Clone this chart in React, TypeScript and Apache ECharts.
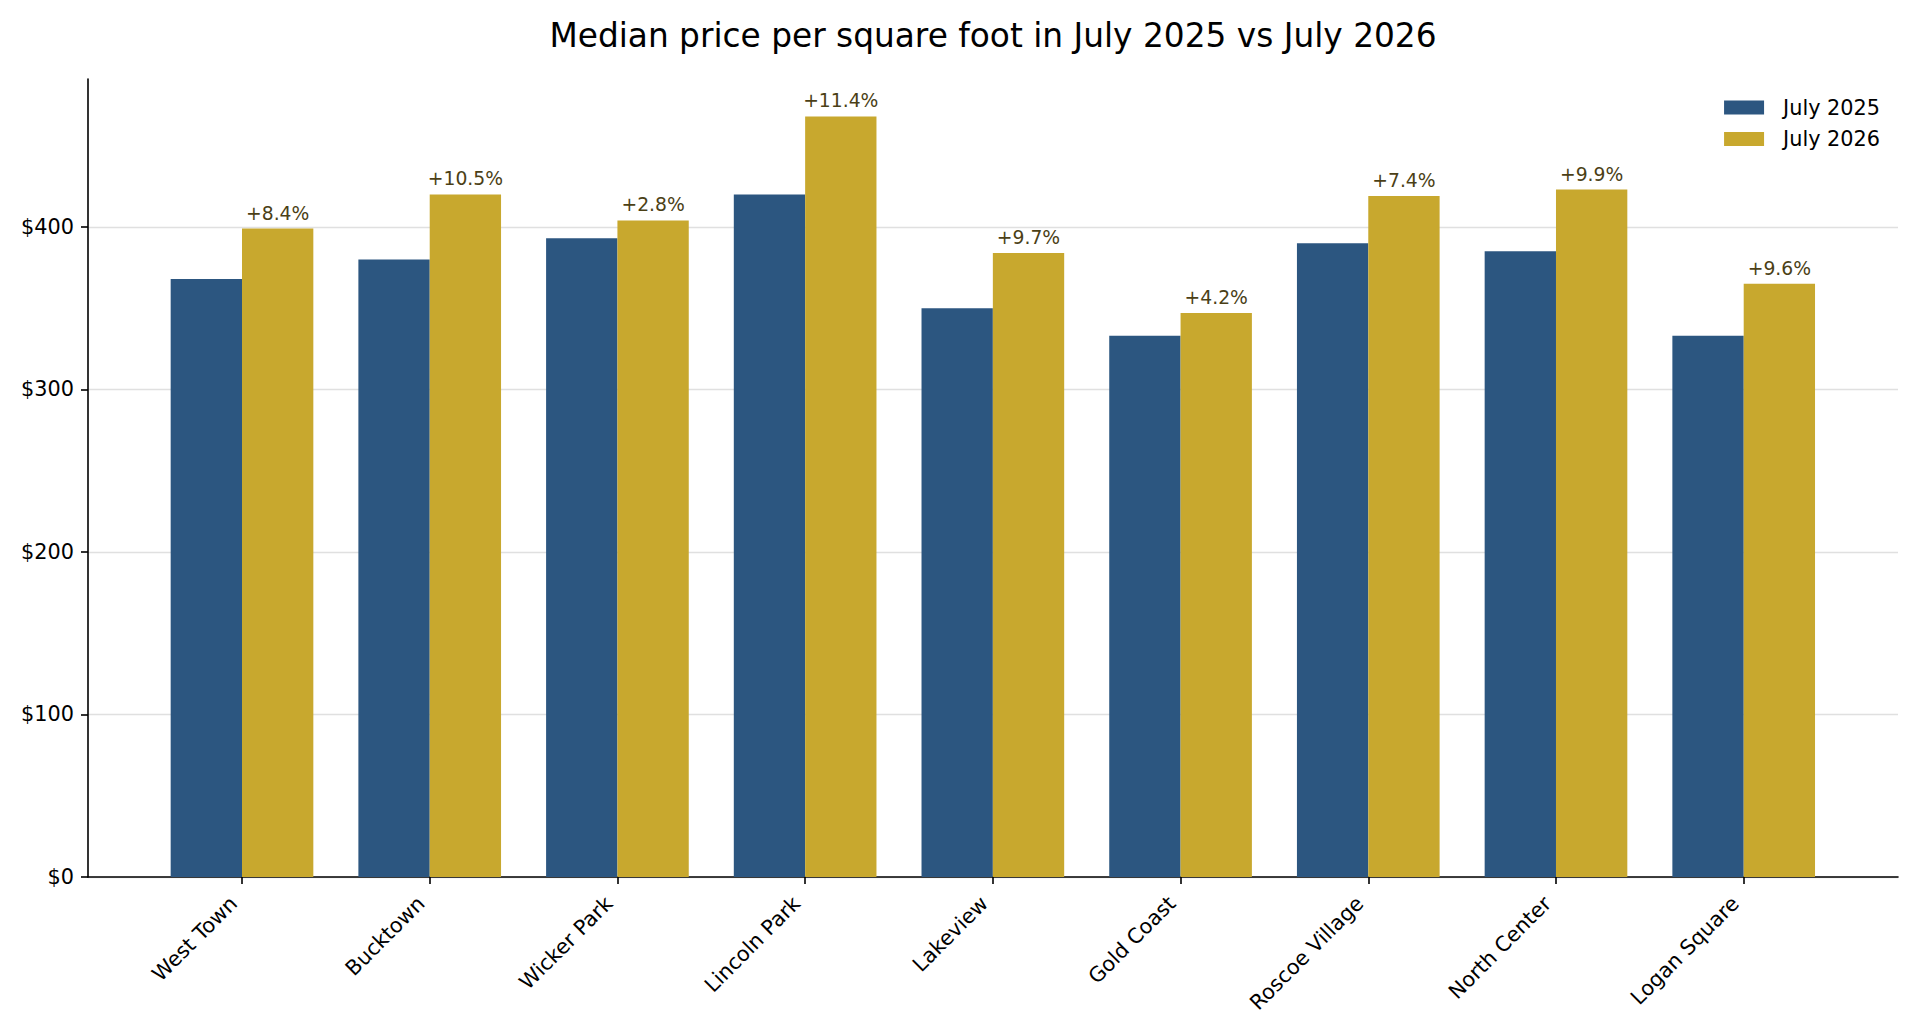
import React, { useEffect, useRef } from "react";
import * as echarts from "echarts";

const categories = [
  "West Town",
  "Bucktown",
  "Wicker Park",
  "Lincoln Park",
  "Lakeview",
  "Gold Coast",
  "Roscoe Village",
  "North Center",
  "Logan Square",
];
const values2025 = [368, 380, 393, 420, 350, 333, 390, 385, 333];
const values2026 = [399, 420, 404, 468, 384, 347, 419, 423, 365];
const changeLabels = ["+8.4%", "+10.5%", "+2.8%", "+11.4%", "+9.7%", "+4.2%", "+7.4%", "+9.9%", "+9.6%"];
const seriesNames = ["July 2025", "July 2026"];
const titleText = "Median price per square foot in July 2025 vs July 2026";
const yMax = 491;
const yTickMax = 400;
const yTickStep = 100;

const FONT = "DejaVu Sans";
const BLUE = "#2c5680";
const GOLD = "#c8a82e";

export default function App() {
  const ref = useRef<HTMLDivElement>(null);
  useEffect(() => {
    if (!ref.current) return;
    const chart = echarts.init(ref.current, null, { renderer: "svg" });
    const W = 1920;
    const H = 1033;
    const axisLeft = 88;
    const axisRight = 1898;
    const axisTop = 79;
    const axisBottom = 877;
    const pxPerUnit = (axisBottom - axisTop) / yMax;
    const tickTop = axisBottom - yTickMax * pxPerUnit;
    const firstCenter = 242;
    const lastCenter = 1743.7;
    const band = (lastCenter - firstCenter) / (categories.length - 1);
    const barLeft = firstCenter - band / 2;
    const barRight = lastCenter + band / 2;

    chart.setOption({
      animation: false,
      backgroundColor: "#ffffff",
      textStyle: { fontFamily: FONT },
      graphic: [
        {
          type: "text",
          x: (axisLeft + axisRight) / 2,
          y: 36,
          style: {
            text: titleText,
            fontFamily: FONT,
            fontSize: 32.8,
            fill: "#000000",
            textAlign: "center",
            textVerticalAlign: "middle",
          },
        },
      ],
      legend: {
        data: seriesNames,
        orient: "vertical",
        right: 40,
        top: 97,
        padding: 0,
        itemWidth: 40,
        itemHeight: 14,
        itemGap: 10.6,
        icon: "rect",
        textStyle: {
          fontFamily: FONT,
          fontSize: 20.8,
          color: "#000000",
          lineHeight: 20,
          padding: [0, 0, 0, 14],
        },
      },
      grid: [
        { left: axisLeft, right: W - axisRight, top: axisTop, bottom: H - axisBottom },
        { left: barLeft, right: W - barRight, top: axisTop, bottom: H - axisBottom },
        { left: axisLeft, right: W - axisRight, top: tickTop, bottom: H - axisBottom },
      ],
      xAxis: [
        {
          gridIndex: 0,
          type: "value",
          min: 0,
          max: 1,
          axisLine: { show: true, onZero: false, lineStyle: { color: "#000000", width: 1.6 } },
          axisTick: { show: false },
          axisLabel: { show: false },
          splitLine: { show: false },
        },
        {
          gridIndex: 1,
          type: "category",
          data: categories,
          axisLine: { show: false },
          axisTick: {
            show: true,
            alignWithLabel: true,
            length: 7,
            lineStyle: { color: "#000000", width: 1.6 },
          },
          axisLabel: {
            interval: 0,
            rotate: 45,
            margin: 14.5,
            padding: [0, 12, 0, 0],
            fontFamily: FONT,
            fontSize: 20.8,
            color: "#000000",
          },
          splitLine: { show: false },
        },
        {
          gridIndex: 2,
          type: "value",
          min: 0,
          max: 1,
          show: false,
        },
      ],
      yAxis: [
        {
          gridIndex: 0,
          type: "value",
          min: 0,
          max: 1,
          axisLine: { show: true, onZero: false, lineStyle: { color: "#000000", width: 1.6 } },
          axisTick: { show: false },
          axisLabel: { show: false },
          splitLine: { show: false },
        },
        {
          gridIndex: 1,
          type: "value",
          min: 0,
          max: yMax,
          show: false,
          splitLine: { show: false },
        },
        {
          gridIndex: 2,
          type: "value",
          min: 0,
          max: yTickMax,
          interval: yTickStep,
          axisLine: { show: false },
          axisTick: { show: true, length: 7, lineStyle: { color: "#000000", width: 1.6 } },
          axisLabel: {
            margin: 14,
            fontFamily: FONT,
            fontSize: 20.8,
            color: "#000000",
            formatter: (v: number) => "$" + v,
          },
          splitLine: { show: true, lineStyle: { color: "#e0e0e0", width: 1.3 } },
        },
      ],
      series: [
        {
          name: seriesNames[0],
          type: "bar",
          xAxisIndex: 1,
          yAxisIndex: 1,
          data: values2025,
          barWidth: "38%",
          barGap: "0%",
          itemStyle: { color: BLUE },
        },
        {
          name: seriesNames[1],
          type: "bar",
          xAxisIndex: 1,
          yAxisIndex: 1,
          data: values2026,
          barWidth: "38%",
          barGap: "0%",
          itemStyle: { color: GOLD },
          label: {
            show: true,
            position: "top",
            distance: 6,
            fontFamily: FONT,
            fontSize: 18.75,
            color: "#4b3f16",
            formatter: (p: any) => changeLabels[p.dataIndex],
          },
        },
      ],
    });
    return () => chart.dispose();
  }, []);
  return (
    <div
      ref={ref}
      style={{ position: "absolute", left: 0, top: 0, width: "1920px", height: "1033px" }}
    />
  );
}
